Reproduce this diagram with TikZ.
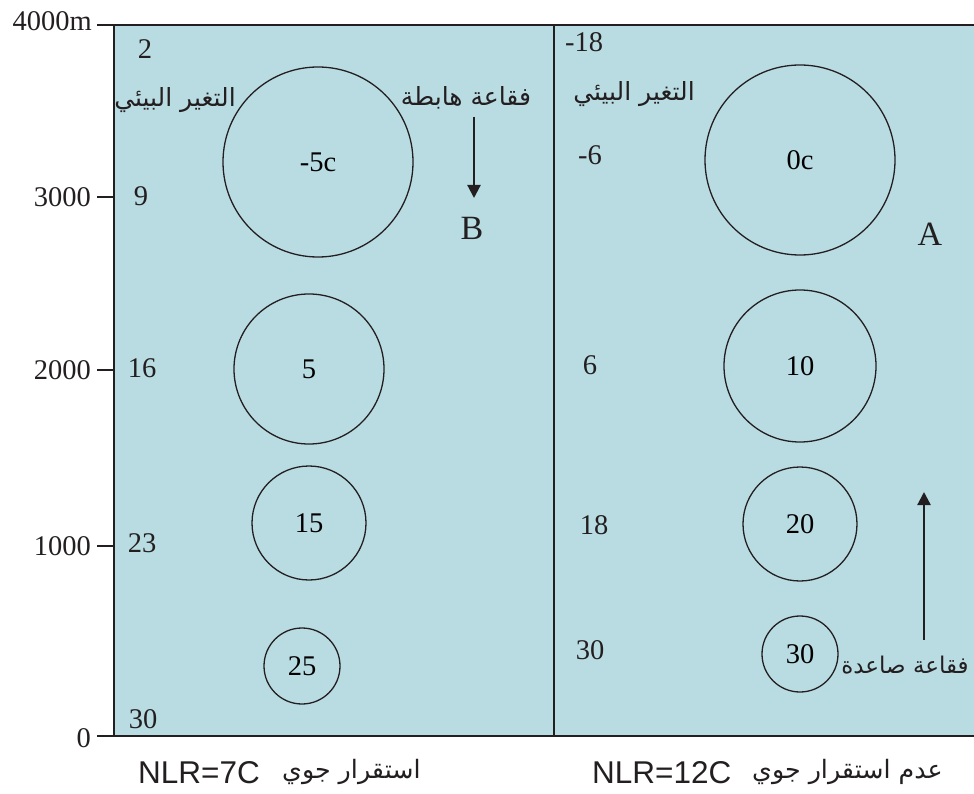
\documentclass[tikz,border=0pt]{standalone}
\usepackage{fontspec}
\setmainfont{Liberation Serif}
\setsansfont{Liberation Sans}
\newfontfamily\arabicfont[Script=Arabic]{DejaVu Sans}
\TeXXeTstate=1
\usetikzlibrary{arrows.meta}
\definecolor{skyfill}{RGB}{185,220,227}
\definecolor{inkline}{RGB}{35,31,32}
\begin{document}
\begin{tikzpicture}[x=1pt,y=-1pt]
\tikzset{
  num/.style={font=\fontsize{28.5}{30}\selectfont, inner sep=0pt, text=inkline},
  axlbl/.style={font=\fontsize{28.5}{30}\selectfont, inner sep=0pt, anchor=east, text=inkline},
  big/.style={font=\fontsize{34}{36}\selectfont, inner sep=0pt, text=inkline},
  ar/.style={font=\arabicfont\fontsize{25}{28}\selectfont, inner sep=0pt, text=inkline},
  arb/.style={font=\arabicfont\fontsize{25.3}{28}\selectfont, inner sep=0pt, text=inkline, anchor=west},
  nlr/.style={font=\sffamily\fontsize{31.5}{34}\selectfont, inner sep=0pt, text=inkline, anchor=west},
  bubble/.style={draw=inkline, circle, line width=1.3pt, inner sep=0pt, font=\fontsize{28.5}{30}\selectfont},
  frame/.style={line width=2.6pt, draw=inkline},
  tick/.style={line width=1.8pt, draw=inkline},
  arr/.style={line width=2.2pt, draw=inkline, -{Triangle[length=13pt,width=13pt]}}
}
\useasboundingbox (0,0) rectangle (974,794);
% background panel
\fill[skyfill] (114,25) rectangle (974,736);
\draw[frame] (114,25) -- (974,25);
\draw[frame] (114,736) -- (974,736);
\draw[frame] (114,25) -- (114,736);
\draw[frame] (554,25) -- (554,736);
% axis ticks
\coordinate (t4a) at (97,25);  \coordinate (t4b) at (114,25);
\coordinate (t3a) at (97,197); \coordinate (t3b) at (114,197);
\coordinate (t2a) at (97,370); \coordinate (t2b) at (114,370);
\coordinate (t1a) at (97,546); \coordinate (t1b) at (114,546);
\coordinate (t0a) at (97,736); \coordinate (t0b) at (114,736);
\draw[tick] (t4a) -- (t4b);
\draw[tick] (t3a) -- (t3b);
\draw[tick] (t2a) -- (t2b);
\draw[tick] (t1a) -- (t1b);
\draw[tick] (t0a) -- (t0b);
\node[axlbl] (l4) at (92,21) {4000m};
\node[axlbl] (l3) at (91,197) {3000};
\node[axlbl] (l2) at (91,370) {2000};
\node[axlbl] (l1) at (91,546) {1000};
\node[axlbl] (l0) at (91,738) {0};
% left column numbers
\node[num] (a1) at (145,49) {2};
\node[ar] (aenv) at (175,100) {\beginR التغير البيئي\endR};
\node[num] (a2) at (141,196) {9};
\node[num] (a3) at (142,368) {16};
\node[num] (a4) at (142,543) {23};
\node[num] (a5) at (143,719) {30};
% right column numbers
\node[num] (b1) at (584,42) {-18};
\node[ar] (benv) at (634,94) {\beginR التغير البيئي\endR};
\node[num] (b2) at (590,155) {-6};
\node[num] (b3) at (590,365) {6};
\node[num] (b4) at (594,525) {18};
\node[num] (b5) at (590,650) {30};
% left bubbles
\node[bubble, minimum size=190pt] (c1) at (318,162) {-5c};
\node[bubble, minimum size=150pt] (c2) at (309,369) {5};
\node[bubble, minimum size=114pt] (c3) at (309,523) {15};
\node[bubble, minimum size=76pt] (c4) at (302,666) {25};
% right bubbles
\node[bubble, minimum size=190pt] (d1) at (800,160) {0c};
\node[bubble, minimum size=152pt] (d2) at (800,366) {10};
\node[bubble, minimum size=114pt] (d3) at (800,524) {20};
\node[bubble, minimum size=76pt] (d4) at (800,654) {30};
% descending parcel
\node[ar] (hab) at (466,98) {\beginR فقاعة هابطة\endR};
\coordinate (hs) at (474,117);
\coordinate (he) at (474,198);
\draw[arr] (hs) -- (he);
\node[big] (B) at (472,228) {B};
% ascending parcel
\node[big] (A) at (930,234) {A};
\node[ar, font=\arabicfont\fontsize{23}{26}\selectfont] (sad) at (905,665) {\beginR فقاعة صاعدة\endR};
\coordinate (ss) at (924,640);
\coordinate (se) at (924,492);
\draw[arr] (ss) -- (se);
% bottom captions
\node[nlr] (n1) at (138,773) {NLR=7C};
\node[arb] (s1) at (282,772) {\beginR استقرار جوي\endR};
\node[nlr] (n2) at (592,773) {NLR=12C};
\node[arb] (s2) at (752,772) {\beginR عدم استقرار جوي\endR};
\end{tikzpicture}
\end{document}
